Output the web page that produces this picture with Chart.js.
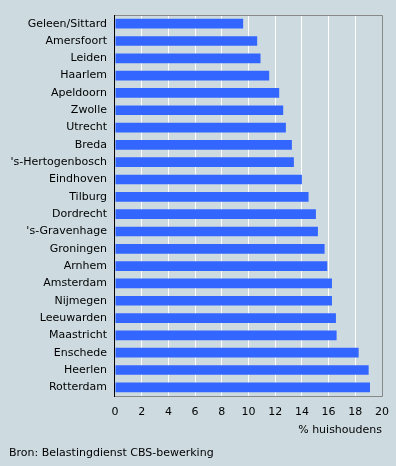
<!DOCTYPE html>
<html>
<head>
<meta charset="utf-8">
<script src="https://cdn.jsdelivr.net/npm/chart.js@4/dist/chart.umd.min.js"></script>
<style>
  html, body { margin: 0; padding: 0; background: #cddbe1; }
  #wrap { position: relative; width: 396px; height: 466px; }
  #source { position: absolute; left: 9px; top: 446px; font: 11px 'DejaVu Sans', Verdana, sans-serif; line-height: 13px; color: #000; }
</style>
</head>
<body>
<div id="wrap">
  <canvas id="c" width="396" height="466"></canvas>
  <div id="source"></div>
</div>
<script>
const cities = ["Geleen/Sittard", "Amersfoort", "Leiden", "Haarlem", "Apeldoorn", "Zwolle", "Utrecht", "Breda",
  "'s-Hertogenbosch", "Eindhoven", "Tilburg", "Dordrecht", "'s-Gravenhage", "Groningen", "Arnhem", "Amsterdam",
  "Nijmegen", "Leeuwarden", "Maastricht", "Enschede", "Heerlen", "Rotterdam"];
const shares = [9.6, 10.65, 10.9, 11.55, 12.3, 12.6, 12.8, 13.25, 13.4, 14.0, 14.5, 15.05, 15.2, 15.7,
  15.9, 16.25, 16.25, 16.55, 16.6, 18.25, 19.0, 19.1];
const xMin = 0, xMax = 20, xStep = 2;
const xTitle = "% huishoudens";
const source = "Bron: Belastingdienst CBS-bewerking";

document.getElementById("source").textContent = source;

Chart.defaults.font.family = "'DejaVu Sans', Verdana, sans-serif";
Chart.defaults.font.size = 11;
Chart.defaults.color = "#000";

// gray frame top/right/bottom, black line on the left
const frame = {
  id: "frame",
  afterDraw(chart) {
    const a = chart.chartArea, ctx = chart.ctx;
    ctx.save();
    ctx.lineWidth = 1;
    ctx.strokeStyle = "#888";
    ctx.beginPath();
    ctx.moveTo(a.left, a.top + 0.5);
    ctx.lineTo(a.right + 0.5, a.top + 0.5);
    ctx.lineTo(a.right + 0.5, a.bottom + 0.5);
    ctx.lineTo(a.left, a.bottom + 0.5);
    ctx.stroke();
    ctx.strokeStyle = "#000";
    ctx.beginPath();
    ctx.moveTo(a.left - 0.5, a.top);
    ctx.lineTo(a.left - 0.5, a.bottom + 1);
    ctx.stroke();
    ctx.restore();
  }
};

new Chart(document.getElementById("c"), {
  type: "bar",
  data: {
    labels: cities,
    datasets: [{ data: shares, backgroundColor: "#3366ff", categoryPercentage: 1, barPercentage: 0.56 }]
  },
  options: {
    indexAxis: "y",
    responsive: false,
    animation: false,
    layout: { padding: { top: 15, right: 14, left: 0, bottom: 29 } },
    plugins: {
      legend: { display: false },
      tooltip: { enabled: false }
    },
    scales: {
      x: {
        min: xMin, max: xMax,
        afterFit(s) { s.height = 41; s.paddingLeft = 0; s.paddingRight = 0; },
        ticks: { stepSize: xStep, padding: 10 },
        grid: {
          color: ctx => (ctx.tick && (ctx.tick.value === xMin || ctx.tick.value === xMax)) ? "rgba(0,0,0,0)" : "#fff",
          drawTicks: false
        },
        border: { display: false },
        title: { display: true, text: xTitle, align: "end", padding: { top: 0, bottom: 0 } }
      },
      y: {
        afterFit(s) { s.width = 115; s.paddingTop = 0; s.paddingBottom = 0; },
        ticks: { padding: 8, autoSkip: false },
        grid: { display: false, drawTicks: false },
        border: { display: false }
      }
    }
  },
  plugins: [frame]
});
</script>
</body>
</html>
